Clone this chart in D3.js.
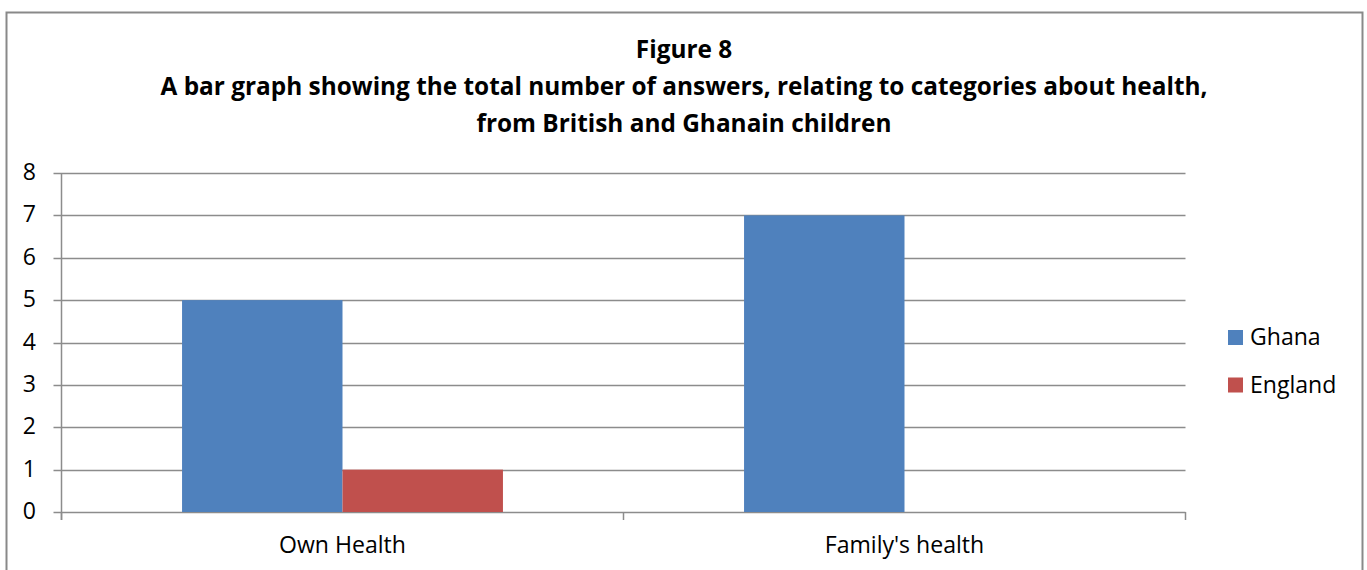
<!DOCTYPE html>
<html><head><meta charset="utf-8">
<script src="https://cdn.jsdelivr.net/npm/d3@7"></script>
<style>body{margin:0;background:#fff}svg{display:block}text{font-family:"Open Sans",sans-serif;fill:#000}</style>
</head><body>
<svg id="c" width="1367" height="570"></svg>
<script>
const categories = ["Own Health", "Family's health"];
const seriesNames = ["Ghana", "England"];
const ghana = [5, 7];
const england = [1, 0];
const yTicks = [0,1,2,3,4,5,6,7,8];
const titleLines = ["Figure 8", "A bar graph showing the total number of answers, relating to categories about health,", "from British and Ghanain children"];
const colors = ["#4F81BD", "#C0504D"];

const svg = d3.select("#c");
// outer frame
svg.append("rect").attr("x",6.5).attr("y",12.5).attr("width",1356).attr("height",600)
  .attr("fill","#fff").attr("stroke","#898989").attr("stroke-width",2);

function fit(sel, target){
  const w = sel.node().getComputedTextLength();
  const fs = parseFloat(sel.attr("font-size"));
  sel.attr("font-size", fs*target/w);
  return fs*target/w;
}

// title
const tfs = (()=>{ const t = svg.append("text").attr("font-size",24).attr("font-weight","bold").text(titleLines[1]); const f = fit(t,1048); t.remove(); return f;})();
titleLines.forEach((l,i)=>{
  svg.append("text").attr("x",684).attr("y",[58,95,132][i]).attr("text-anchor","middle")
    .attr("font-size",tfs).attr("font-weight","bold").text(l);
});

const pLeft = 61.5, pRight = 1185.5, pTop = 173, pBottom = 512;
const x0 = d3.scaleBand().domain(categories).range([pLeft,pRight]).paddingInner(0).paddingOuter(0);
const inner = 0.2145;
const x1 = d3.scaleBand().domain(seriesNames).range([x0.bandwidth()*inner, x0.bandwidth()*(1-inner)]);
const y = d3.scaleLinear().domain([0,8]).range([pBottom,pTop]);

// gridlines
svg.append("g").selectAll("line").data(yTicks).join("line")
  .attr("x1",pLeft-8).attr("x2",pRight).attr("y1",d=>Math.round(y(d))+0.5).attr("y2",d=>Math.round(y(d))+0.5)
  .attr("stroke","#8c8c8c").attr("stroke-width",1.5);

// bars
const data = categories.map((c,i)=>({cat:c, vals:[ghana[i], england[i]]}));
const g = svg.append("g").selectAll("g").data(data).join("g").attr("transform",d=>`translate(${x0(d.cat)},0)`);
g.selectAll("rect").data(d=>d.vals.map((v,j)=>({s:seriesNames[j],v,j}))).join("rect")
  .attr("x",d=>x1(d.s)).attr("width",x1.bandwidth()).attr("y",d=>y(d.v)).attr("height",d=>y(0)-y(d.v))
  .attr("fill",d=>colors[d.j]);

// y axis line
svg.append("line").attr("x1",pLeft).attr("x2",pLeft).attr("y1",pTop).attr("y2",pBottom+8).attr("stroke","#8c8c8c").attr("stroke-width",1.5);
// x axis ticks
svg.append("g").selectAll("line").data([pLeft, x0(categories[1]), pRight]).join("line")
  .attr("x1",d=>d).attr("x2",d=>d).attr("y1",pBottom).attr("y2",pBottom+8).attr("stroke","#8c8c8c").attr("stroke-width",1.5);

// category labels
const cfs = (()=>{ const t = svg.append("text").attr("font-size",20).text(categories[0]); const f = fit(t,127); t.remove(); return f;})();

// y labels
svg.append("g").selectAll("text").data(yTicks).join("text")
  .attr("x",36).attr("y",d=>y(d)+7).attr("text-anchor","end").attr("font-size",cfs).text(d=>d);

svg.append("g").selectAll("text").data(categories).join("text")
  .attr("x",d=>x0(d)+x0.bandwidth()/2).attr("y",553).attr("text-anchor","middle").attr("font-size",cfs).text(d=>d);

// legend
const lg = svg.append("g").selectAll("g").data(seriesNames).join("g")
  .attr("transform",(d,i)=>`translate(1228,${330+i*47.5})`);
lg.append("rect").attr("width",15).attr("height",15).attr("fill",(d,i)=>colors[i]);
lg.append("text").attr("x",22).attr("y",15).attr("font-size",cfs).text(d=>d);
</script>
</body></html>
